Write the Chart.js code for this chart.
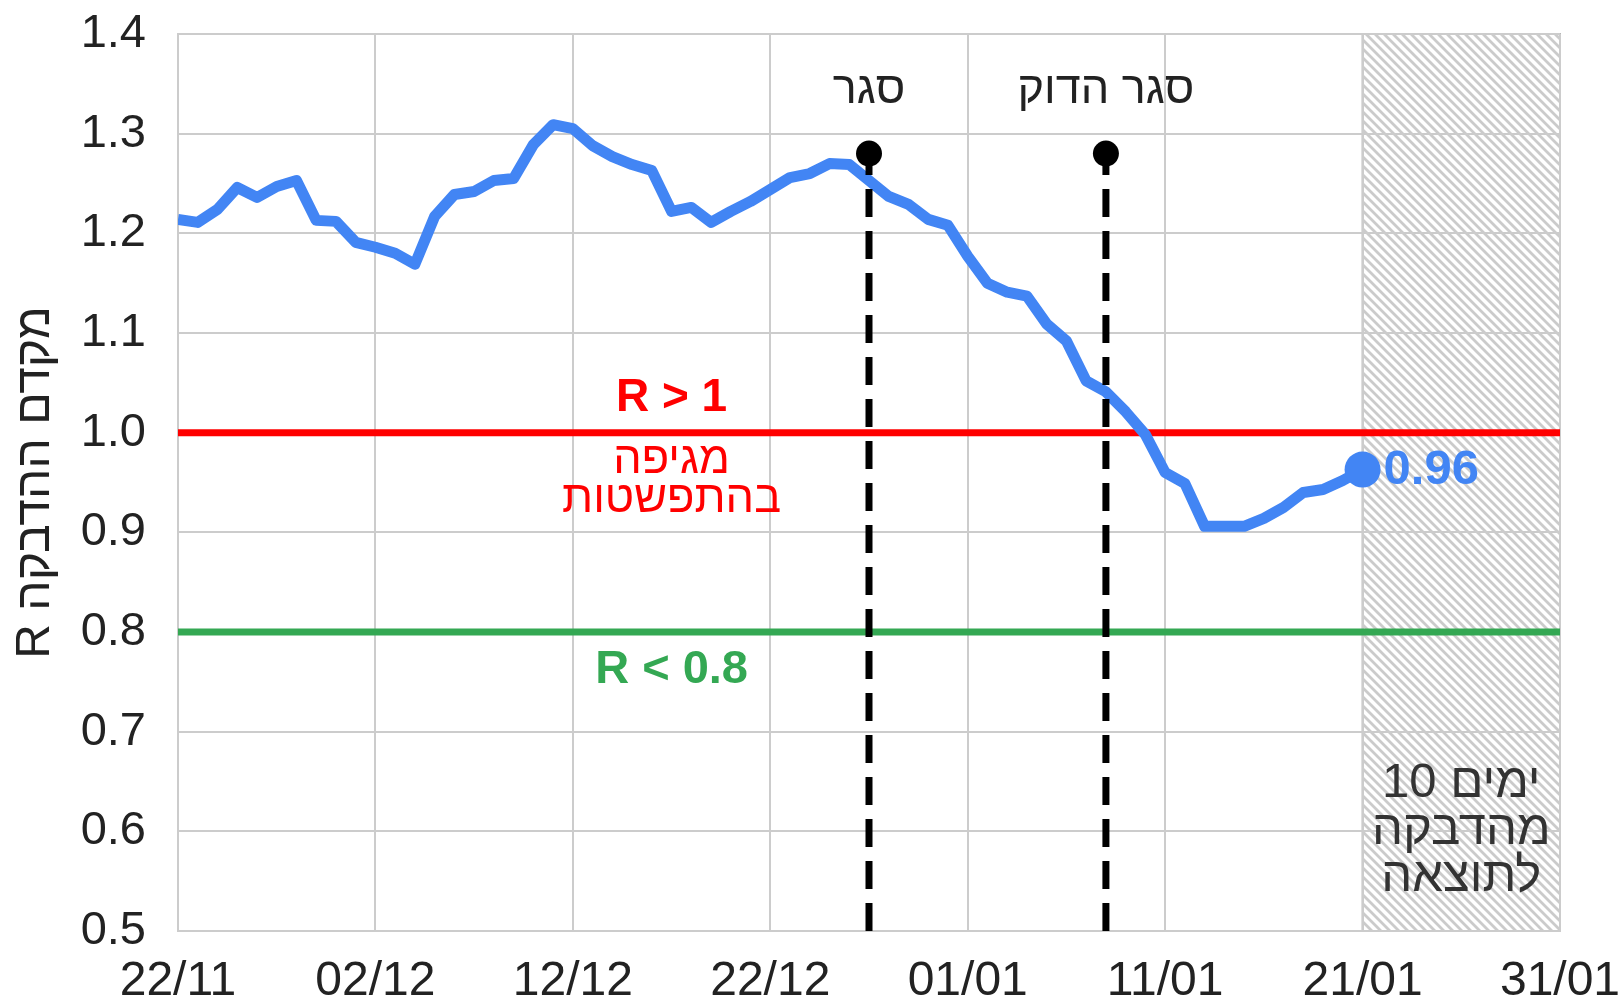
<!DOCTYPE html>
<html lang="he">
<head>
<meta charset="utf-8">
<title>מקדם ההדבקה R</title>
<script src="https://cdn.jsdelivr.net/npm/chart.js@4"></script>
<style>
  html, body { margin: 0; padding: 0; background: #fff; }
  #rChart { display: block; }
</style>
</head>
<body>
<canvas id="rChart" width="1624" height="1004"></canvas>
<script>
// Daily R values, day 0 = 22/11 ... day 60 = 21/01
const rValues = [
    1.214, 1.211, 1.224, 1.246, 1.236, 1.247, 1.253, 1.213, 1.212, 1.191,
    1.186, 1.180, 1.169, 1.217, 1.239, 1.242, 1.253, 1.255, 1.289, 1.309,
    1.305, 1.288, 1.277, 1.269, 1.263, 1.222, 1.226, 1.211, 1.222, 1.232,
    1.244, 1.256, 1.260, 1.270, 1.269, 1.253, 1.237, 1.229, 1.214, 1.208,
    1.177, 1.150, 1.141, 1.137, 1.109, 1.092, 1.052, 1.041, 1.021, 0.998,
    0.960, 0.949, 0.906, 0.906, 0.906, 0.914, 0.925, 0.940, 0.943, 0.952,
    0.963
];

// x axis: days since 22/11
const xTickLabels = ['22/11', '02/12', '12/12', '22/12', '01/01', '11/01', '21/01', '31/01'];
const axisEndDay = 70;
const forecastStartDay = 60;

// lockdown markers
const lockdownDays = [35, 47];
const lockdownLabels = ['סגר', 'סגר הדוק'];
const lockdownTop = 1.28;

// threshold lines
const upperThreshold = 1.0;
const lowerThreshold = 0.8;

const FONT = "'Liberation Sans', Arial, 'DejaVu Sans', sans-serif";
const BLUE = '#4285F4';
const RED = '#FF0000';
const GREEN = '#34A853';

// text notes placed in data coordinates
const textNotes = [
    { text: 'R > 1', x: 25, y: 1.034, color: RED, size: 46, bold: true },
    { text: 'מגיפה', x: 25, y: 0.972, color: RED, size: 45 },
    { text: 'בהתפשטות', x: 25, y: 0.933, color: RED, size: 45 },
    { text: 'R < 0.8', x: 25, y: 0.762, color: GREEN, size: 47, bold: true },
    { text: lockdownLabels[0], x: lockdownDays[0], y: 1.343, color: '#222', size: 45 },
    { text: lockdownLabels[1], x: lockdownDays[1], y: 1.343, color: '#222', size: 45 },
    { text: '10 ימים', x: 65, y: 0.648, color: '#333', size: 49 },
    { text: 'מהדבקה', x: 65, y: 0.601, color: '#333', size: 49, rtl: true },
    { text: 'לתוצאה', x: 65, y: 0.554, color: '#333', size: 49, rtl: true }
];

const dayPoints = rValues.map((v, i) => ({ x: i, y: v }));
const endRadius = rValues.map((v, i) => (i === rValues.length - 1 ? 18 : 0));

// hatch pattern for the 10-day window
function makeHatch() {
    const size = 9;
    const c = document.createElement('canvas');
    c.width = size;
    c.height = size;
    const g = c.getContext('2d');
    g.fillStyle = '#ffffff';
    g.fillRect(0, 0, size, size);
    g.strokeStyle = '#cbcbcb';
    g.lineWidth = 2.8;
    g.beginPath();
    g.moveTo(-2, -2); g.lineTo(size + 2, size + 2);
    g.moveTo(-2, size - 2); g.lineTo(2, size + 2);
    g.moveTo(size - 2, -2); g.lineTo(size + 2, 2);
    g.stroke();
    return g.createPattern(c, 'repeat');
}

const hatchPlugin = {
    id: 'hatch',
    beforeDraw(chart) {
        const { ctx, chartArea, scales } = chart;
        const x0 = scales.x.getPixelForValue(forecastStartDay);
        const x1 = scales.x.getPixelForValue(axisEndDay);
        ctx.save();
        ctx.fillStyle = makeHatch();
        ctx.fillRect(x0, chartArea.top, x1 - x0, chartArea.bottom - chartArea.top);
        ctx.strokeStyle = '#b5b5b5';
        ctx.lineWidth = 2;
        ctx.strokeRect(x0, chartArea.top, x1 - x0, chartArea.bottom - chartArea.top);
        ctx.restore();
    }
};

const notesPlugin = {
    id: 'notes',
    afterDatasetsDraw(chart) {
        const { ctx, scales, chartArea } = chart;
        ctx.save();
        ctx.textAlign = 'center';
        ctx.textBaseline = 'middle';
        textNotes.forEach(n => {
            ctx.font = (n.bold ? 'bold ' : '') + n.size + 'px ' + FONT;
            ctx.fillStyle = n.color;
            ctx.direction = n.rtl ? 'rtl' : 'ltr';
            ctx.fillText(n.text, scales.x.getPixelForValue(n.x), scales.y.getPixelForValue(n.y));
        });

        // value label next to the last point
        const last = rValues.length - 1;
        ctx.direction = 'ltr';
        ctx.textAlign = 'left';
        ctx.font = 'bold 49px ' + FONT;
        ctx.fillStyle = BLUE;
        ctx.fillText(rValues[last].toFixed(2),
            scales.x.getPixelForValue(last) + 21, scales.y.getPixelForValue(rValues[last]) + 1);

        // y axis title
        ctx.translate(36, (chartArea.top + chartArea.bottom) / 2);
        ctx.rotate(-Math.PI / 2);
        ctx.direction = 'rtl';
        ctx.textAlign = 'center';
        ctx.font = '48px ' + FONT;
        ctx.fillStyle = '#222';
        ctx.fillText('מקדם ההדבקה R', 0, 0);
        ctx.restore();
    }
};

const lockdownSets = lockdownDays.map(d => ({
    data: [{ x: d, y: 0.5 }, { x: d, y: lockdownTop }],
    borderColor: '#000',
    borderWidth: 7,
    borderDash: [28, 14],
    pointRadius: [0, 13],
    pointBackgroundColor: '#000',
    pointBorderWidth: 0,
    order: 0
}));

new Chart(document.getElementById('rChart'), {
    type: 'line',
    data: {
        datasets: [
            ...lockdownSets,
            {
                data: dayPoints,
                borderColor: BLUE,
                borderWidth: 11,
                borderJoinStyle: 'round',
                pointRadius: endRadius,
                pointBackgroundColor: BLUE,
                pointBorderWidth: 0,
                tension: 0,
                order: 1
            },
            {
                data: [{ x: 0, y: upperThreshold }, { x: axisEndDay, y: upperThreshold }],
                borderColor: RED,
                borderWidth: 7,
                pointRadius: 0,
                order: 2
            },
            {
                data: [{ x: 0, y: lowerThreshold }, { x: axisEndDay, y: lowerThreshold }],
                borderColor: GREEN,
                borderWidth: 7,
                pointRadius: 0,
                order: 2
            }
        ]
    },
    options: {
        responsive: false,
        animation: false,
        layout: { padding: { top: 34, right: 64, left: 0, bottom: 0 } },
        plugins: {
            legend: { display: false },
            tooltip: { enabled: false }
        },
        scales: {
            x: {
                type: 'linear',
                min: 0,
                max: axisEndDay,
                afterFit: s => {
                    s.height = 73;
                    s.paddingLeft = 0;
                    s.paddingRight = 0;
                },
                grid: { color: '#cccccc', lineWidth: 2, drawTicks: false },
                border: { color: '#cccccc', width: 2 },
                ticks: {
                    stepSize: 10,
                    padding: 22,
                    maxRotation: 0,
                    color: '#222',
                    font: { family: FONT, size: 48 },
                    callback: v => xTickLabels[v / 10]
                }
            },
            y: {
                min: 0.5,
                max: 1.4,
                afterFit: s => {
                    s.width = 178;
                    s.paddingTop = 0;
                    s.paddingBottom = 0;
                },
                grid: { color: '#cccccc', lineWidth: 2, drawTicks: false },
                border: { color: '#cccccc', width: 2 },
                ticks: {
                    stepSize: 0.1,
                    padding: 32,
                    color: '#222',
                    font: { family: FONT, size: 47 },
                    callback: v => v.toFixed(1)
                }
            }
        }
    },
    plugins: [hatchPlugin, notesPlugin]
});
</script>
</body>
</html>
